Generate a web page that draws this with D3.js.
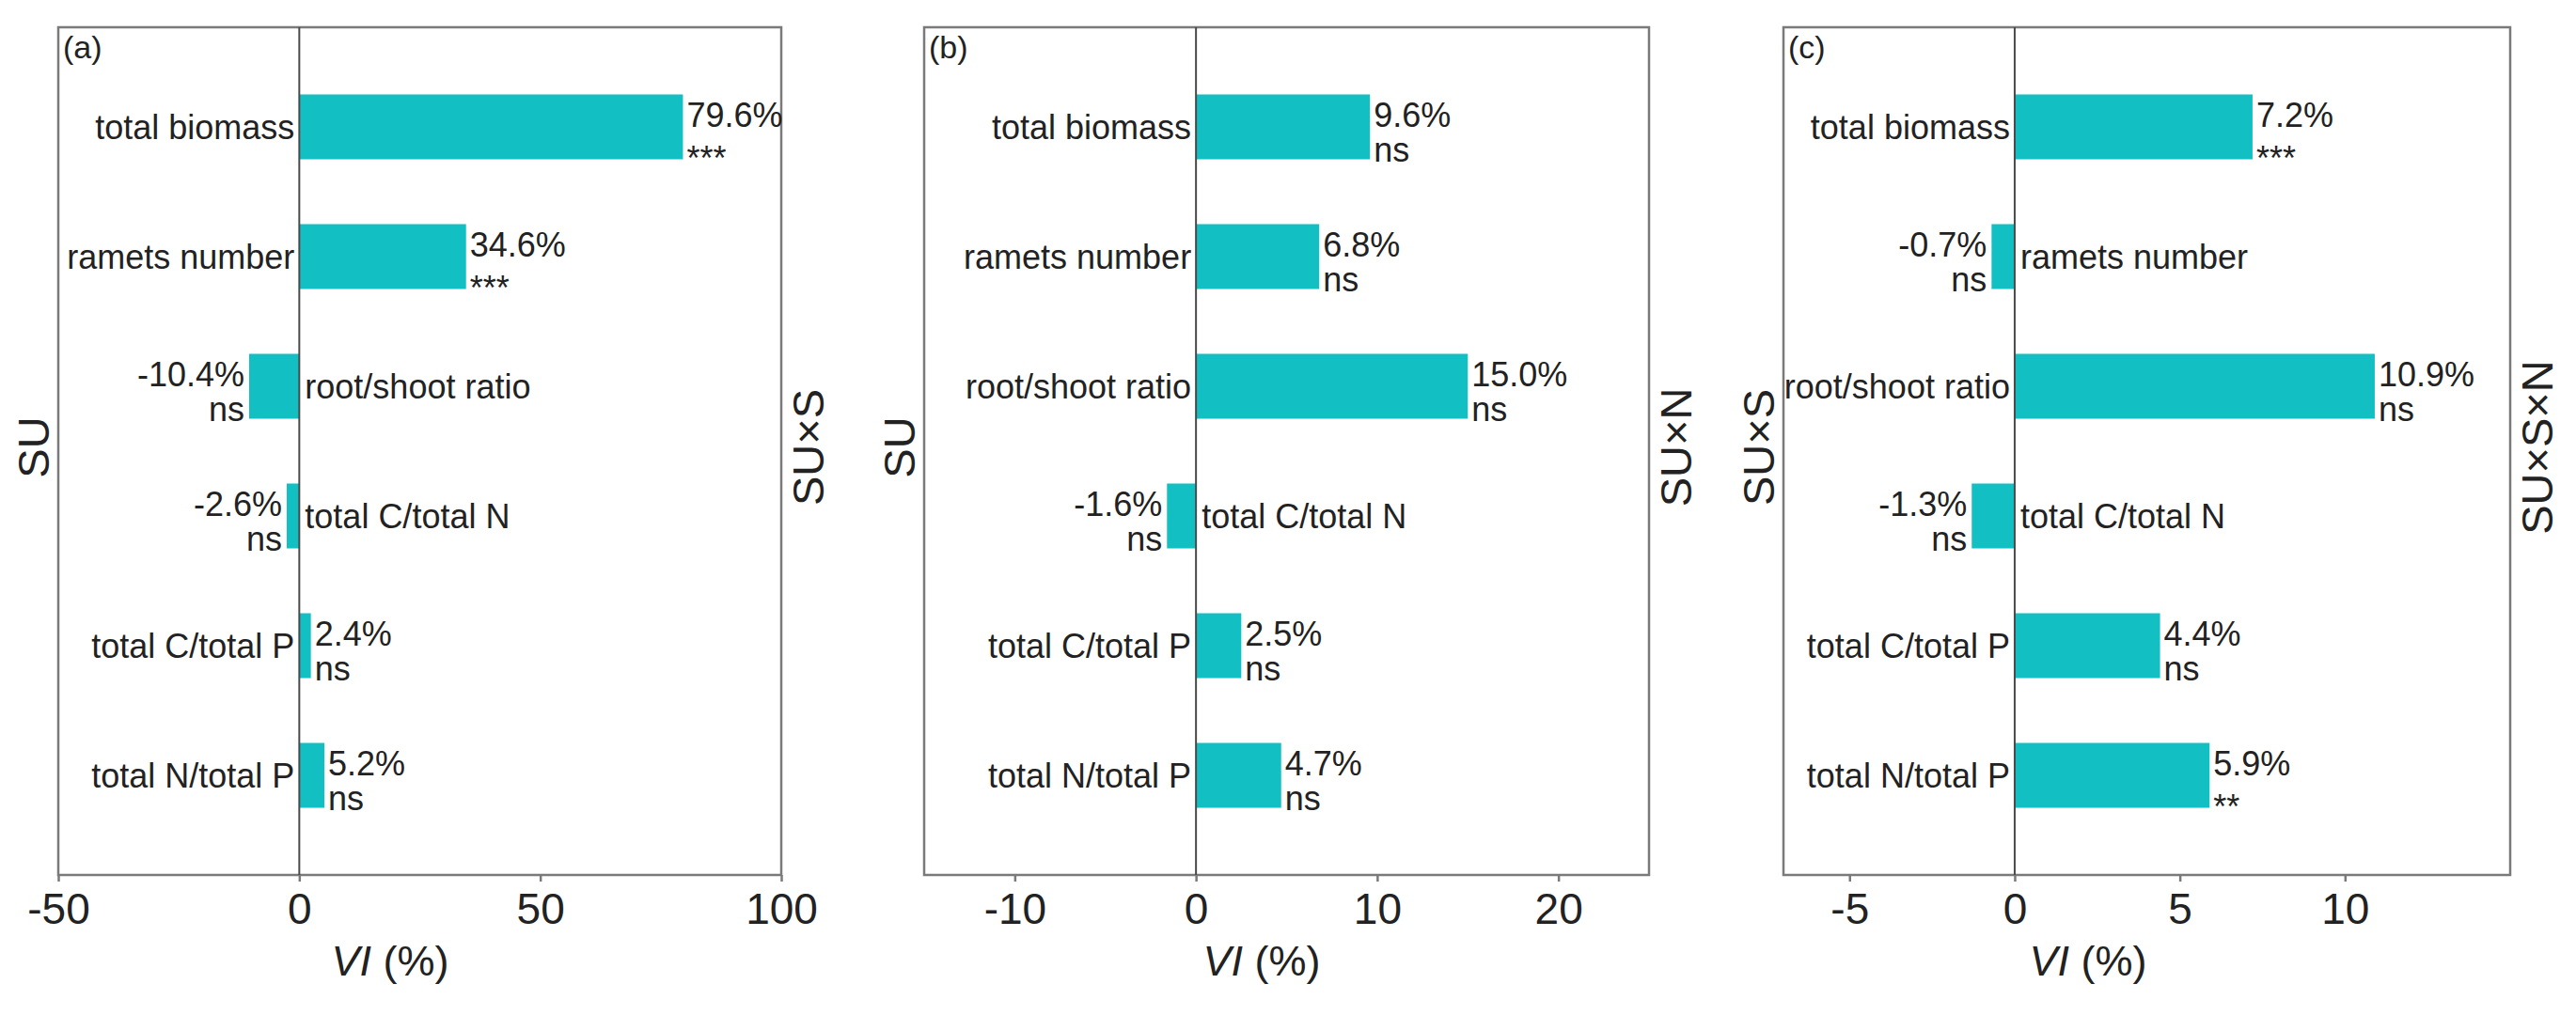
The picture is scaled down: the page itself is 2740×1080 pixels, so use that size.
<!DOCTYPE html>
<html>
<head>
<meta charset="utf-8">
<script src="https://cdn.jsdelivr.net/npm/d3@7"></script>
<style>
  html, body { margin: 0; padding: 0; background: #fff; }
  svg { display: block; }
  text { font-family: "Liberation Sans", Arial, sans-serif; fill: #222; }
</style>
</head>
<body>
<svg id="chart" width="2740" height="1080"></svg>
<script>
// ---- data ----
const categories = ["total biomass", "ramets number", "root/shoot ratio", "total C/total N", "total C/total P", "total N/total P"];
const valuesA = [79.6, 34.6, -10.4, -2.6, 2.4, 5.2];
const sigA = ["***", "***", "ns", "ns", "ns", "ns"];
const valuesB = [9.6, 6.8, 15.0, -1.6, 2.5, 4.7];
const sigB = ["ns", "ns", "ns", "ns", "ns", "ns"];
const valuesC = [7.2, -0.7, 10.9, -1.3, 4.4, 5.9];
const sigC = ["***", "ns", "ns", "ns", "ns", "**"];
const domainA = [-50, 100], domainB = [-15, 25], domainC = [-7, 15];
const ticksA = [-50, 0, 50, 100];
const ticksB = [-10, 0, 10, 20];
const ticksC = [-5, 0, 5, 10];
const panelLetters = ["(a)", "(b)", "(c)"];
const leftLabels = ["SU", "SU", "SU\u00D7S"];
const rightLabels = ["SU\u00D7S", "SU\u00D7N", "SU\u00D7S\u00D7N"];
const xAxisTitle = "VI";

// ---- layout ----
const layout = [
  { x0: 62, x1: 831, titleX: 415 },
  { x0: 983, x1: 1754, titleX: 1342 },
  { x0: 1897, x1: 2670, titleX: 2221 }
];
const plotTop = 29, plotBottom = 931;
const barColor = "#12bfc3";
const frameColor = "#7a7a7a";
const zeroColor = "#4a4a4a";
const labelSize = 36;

const panels = [
  { values: valuesA, sig: sigA, domain: domainA, ticks: ticksA },
  { values: valuesB, sig: sigB, domain: domainB, ticks: ticksB },
  { values: valuesC, sig: sigC, domain: domainC, ticks: ticksC }
];

const svg = d3.select("#chart");

panels.forEach((p, i) => {
  const L = layout[i];
  const x = d3.scaleLinear().domain(p.domain).range([L.x0, L.x1]);
  const y = d3.scaleBand().domain(categories).range([plotTop, plotBottom])
    .paddingInner(0.5).paddingOuter(0.518).align(0.5);
  const g = svg.append("g");
  const rows = categories.map((c, k) => ({ cat: c, v: p.values[k], s: p.sig[k] }));

  // bars
  g.selectAll("rect.bar").data(rows).join("rect")
    .attr("class", "bar")
    .attr("x", d => Math.min(x(0), x(d.v)))
    .attr("width", d => Math.abs(x(d.v) - x(0)))
    .attr("y", d => y(d.cat))
    .attr("height", y.bandwidth())
    .attr("fill", barColor);

  // frame
  g.append("rect")
    .attr("x", L.x0).attr("y", plotTop)
    .attr("width", L.x1 - L.x0).attr("height", plotBottom - plotTop)
    .attr("fill", "none").attr("stroke", frameColor).attr("stroke-width", 2.5);

  // zero line
  g.append("line")
    .attr("x1", x(0)).attr("x2", x(0)).attr("y1", plotTop).attr("y2", plotBottom)
    .attr("stroke", zeroColor).attr("stroke-width", 2);

  // x axis
  const ax = g.append("g").attr("transform", `translate(0,${plotBottom})`)
    .call(d3.axisBottom(x).tickValues(p.ticks).tickFormat(d => String(d)).tickSize(7).tickPadding(12));
  ax.select(".domain").remove();
  ax.selectAll(".tick line").attr("stroke", frameColor).attr("stroke-width", 2.5);
  ax.selectAll(".tick text")
    .attr("font-size", 46).attr("fill", "#222")
    .attr("font-family", "'Liberation Sans', Arial, sans-serif");

  // category labels
  g.selectAll("text.cat").data(rows).join("text")
    .attr("class", "cat")
    .attr("x", d => d.v >= 0 ? x(0) - 5 : x(0) + 6)
    .attr("y", d => y(d.cat) + y.bandwidth() / 2)
    .attr("dy", "0.35em")
    .attr("text-anchor", d => d.v >= 0 ? "end" : "start")
    .attr("font-size", labelSize)
    .text(d => d.cat);

  // value labels (two lines)
  const vl = g.selectAll("text.val").data(rows).join("text")
    .attr("class", "val")
    .attr("text-anchor", d => d.v >= 0 ? "start" : "end")
    .attr("font-size", labelSize);
  vl.append("tspan")
    .attr("x", d => d.v >= 0 ? x(d.v) + 4 : x(d.v) - 5)
    .attr("y", d => y(d.cat) + y.bandwidth() / 2)
    .text(d => d.v.toFixed(1) + "%");
  vl.append("tspan")
    .attr("x", d => d.v >= 0 ? x(d.v) + 4 : x(d.v) - 5)
    .attr("y", d => y(d.cat) + y.bandwidth() / 2 + (d.s.indexOf("*") >= 0 ? 46 : 37))
    .text(d => d.s);

  // panel letter
  g.append("text")
    .attr("x", L.x0 + 5).attr("y", plotTop + 33)
    .attr("font-size", 34)
    .text(panelLetters[i]);

  // side labels
  const midY = (plotTop + plotBottom) / 2 - 4;
  g.append("text")
    .attr("transform", `translate(${L.x0 - 26},${midY}) rotate(-90)`)
    .attr("text-anchor", "middle").attr("dy", "0.35em")
    .attr("font-size", 47)
    .text(leftLabels[i]);
  g.append("text")
    .attr("transform", `translate(${L.x1 + 29},${midY}) rotate(-90)`)
    .attr("text-anchor", "middle").attr("dy", "0.35em")
    .attr("font-size", 47)
    .text(rightLabels[i]);

  // x axis title
  const t = g.append("text")
    .attr("x", L.titleX).attr("y", 1038)
    .attr("text-anchor", "middle")
    .attr("font-size", 45);
  t.append("tspan").attr("font-style", "italic").text(xAxisTitle);
  t.append("tspan").text(" (%)");
});
</script>
</body>
</html>
